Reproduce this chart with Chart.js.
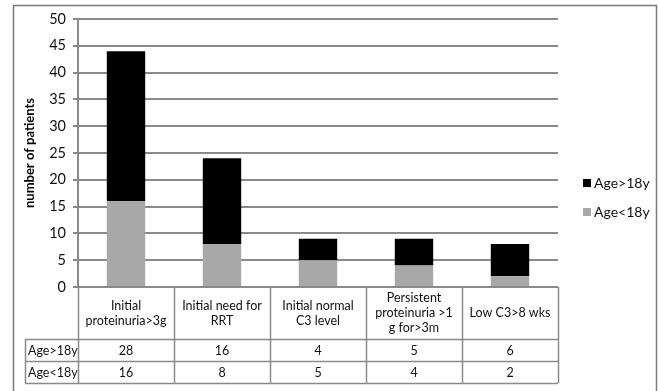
<!DOCTYPE html>
<html>
<head>
<meta charset="utf-8">
<script src="https://cdn.jsdelivr.net/npm/chart.js@4"></script>
<style>
  html, body { margin: 0; padding: 0; background: #fff; }
  #wrap { width: 659px; height: 391px; position: relative; }
</style>
</head>
<body>
<div id="wrap"><canvas id="patientsChart"></canvas></div>
<script>
const categories = [
    ['Initial', 'proteinuria>3g'],
    ['Initial need for', 'RRT'],
    ['Initial normal', 'C3 level'],
    ['Persistent', 'proteinuria >1', 'g for>3m'],
    ['Low C3>8 wks']
];
const over18 = [28, 16, 4, 5, 6];
const under18 = [16, 8, 5, 4, 2];
const yTicks = [0, 5, 10, 15, 20, 25, 30, 35, 40, 45, 50];

const FONT = "Lato, 'Open Sans', sans-serif";
const LINE = '#8a8a8a';
const GREY_BAR = '#a8a8a8';

// frame around the whole figure (no bottom edge)
const framePlugin = {
    id: 'frame',
    beforeDraw(chart) {
        const ctx = chart.ctx;
        ctx.save();
        ctx.strokeStyle = '#7a7a7a';
        ctx.lineWidth = 1.5;
        ctx.beginPath();
        ctx.moveTo(13.5, 391);
        ctx.lineTo(13.5, 5.5);
        ctx.lineTo(656.5, 5.5);
        ctx.lineTo(656.5, 391);
        ctx.stroke();
        ctx.restore();
    }
};

// data table under the x axis, columns follow the category scale
const tablePlugin = {
    id: 'dataTable',
    afterDraw(chart) {
        const {ctx, chartArea} = chart;
        const x = chart.scales.x;
        const n = chart.data.labels.length;
        const colW = (x.right - x.left) / n;
        const top = chartArea.bottom;
        const headBottom = top + 52;
        const rowH = 22;
        const labelLeft = 25;
        const right = x.right;
        const rows = chart.data.datasets.slice().reverse();

        ctx.save();
        ctx.strokeStyle = LINE;
        ctx.lineWidth = 1.5;
        ctx.beginPath();
        // vertical lines
        for (let i = 0; i <= n; i++) {
            const px = Math.round(x.left + i * colW) + 0.5;
            ctx.moveTo(px, top);
            ctx.lineTo(px, headBottom + rowH * 2);
        }
        ctx.moveTo(labelLeft + 0.5, headBottom);
        ctx.lineTo(labelLeft + 0.5, headBottom + rowH * 2);
        // horizontal lines
        for (let r = 0; r <= 2; r++) {
            const py = Math.round(headBottom + r * rowH) + 0.5;
            ctx.moveTo(labelLeft, py);
            ctx.lineTo(right, py);
        }
        ctx.stroke();

        ctx.fillStyle = '#111';
        ctx.textBaseline = 'middle';
        ctx.font = '12.5px ' + FONT;
        ctx.textAlign = 'center';
        chart.data.labels.forEach((lab, i) => {
            const cx = x.getPixelForValue(i);
            const lines = Array.isArray(lab) ? lab : [lab];
            const lh = 15;
            const cy = (top + headBottom) / 2;
            lines.forEach((t, k) => {
                ctx.fillText(t, cx, cy + (k - (lines.length - 1) / 2) * lh);
            });
        });

        rows.forEach((ds, r) => {
            const cy = headBottom + r * rowH + rowH / 2 + 0.5;
            ctx.textAlign = 'left';
            ctx.fillText(ds.label, labelLeft + 3, cy);
            ctx.textAlign = 'center';
            ds.data.forEach((v, i) => {
                ctx.fillText(String(v), x.getPixelForValue(i), cy);
            });
        });
        ctx.restore();
    }
};

// legend on the right, top entry is the upper stack segment
const legendPlugin = {
    id: 'sideLegend',
    afterDraw(chart) {
        const ctx = chart.ctx;
        const items = chart.data.datasets.slice().reverse();
        const lx = 583;
        let ly = 183;
        ctx.save();
        ctx.font = '14px ' + FONT;
        ctx.textBaseline = 'middle';
        ctx.textAlign = 'left';
        items.forEach(ds => {
            ctx.fillStyle = ds.backgroundColor;
            ctx.fillRect(lx, ly - 4, 8, 8);
            ctx.fillStyle = '#111';
            ctx.fillText(ds.label, lx + 11, ly);
            ly += 29;
        });
        ctx.restore();
    }
};

new Chart(document.getElementById('patientsChart'), {
    type: 'bar',
    data: {
        labels: categories,
        datasets: [
            {
                label: 'Age<18y',
                data: under18,
                backgroundColor: GREY_BAR,
                barPercentage: 0.4,
                categoryPercentage: 1
            },
            {
                label: 'Age>18y',
                data: over18,
                backgroundColor: '#000000',
                barPercentage: 0.4,
                categoryPercentage: 1
            }
        ]
    },
    options: {
        responsive: true,
        maintainAspectRatio: false,
        animation: false,
        layout: {
            padding: { left: 20, top: 19, right: 101, bottom: 104 }
        },
        plugins: {
            legend: { display: false },
            tooltip: { enabled: false }
        },
        scales: {
            x: {
                stacked: true,
                display: false
            },
            y: {
                stacked: true,
                min: 0,
                max: 50,
                afterBuildTicks(scale) {
                    scale.ticks = yTicks.map(v => ({ value: v }));
                },
                afterFit(scale) {
                    scale.width = 58;
                },
                grid: {
                    color: LINE,
                    lineWidth: 2,
                    tickLength: 5,
                    drawTicks: true
                },
                border: { color: LINE, width: 2 },
                ticks: {
                    color: '#111',
                    padding: 7,
                    font: { family: FONT, size: 14.5 }
                },
                title: {
                    display: true,
                    text: 'number of patients',
                    color: '#000',
                    padding: { top: 2, bottom: 0 },
                    font: { family: FONT, size: 13, weight: 'bold' }
                }
            }
        }
    },
    plugins: [framePlugin, tablePlugin, legendPlugin]
});
</script>
</body>
</html>
